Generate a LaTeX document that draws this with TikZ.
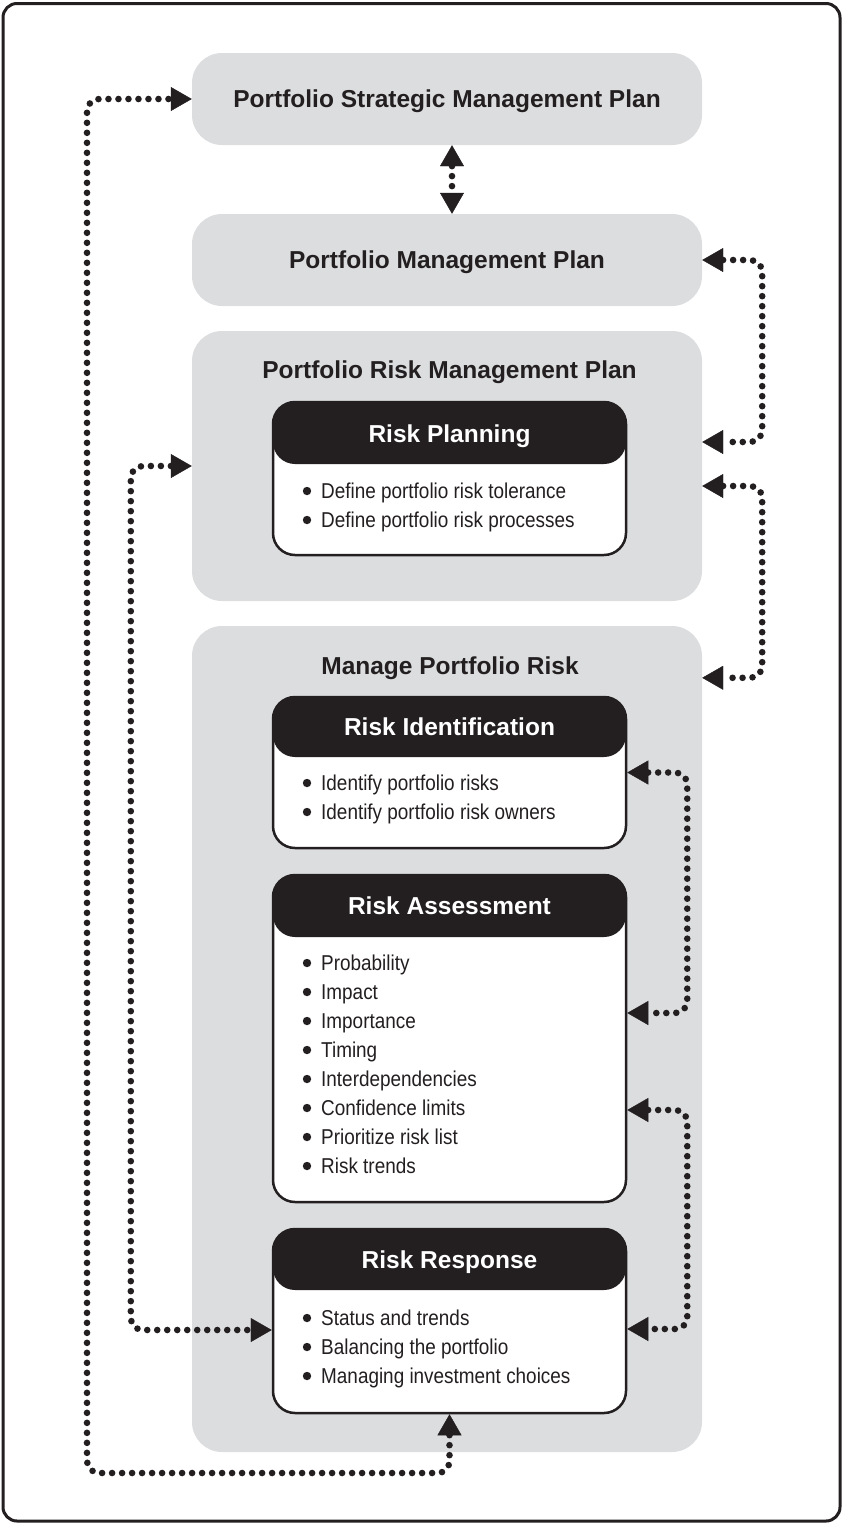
\documentclass[tikz,border=0pt]{standalone}
\usepackage{fontspec}
\setmainfont{Liberation Sans}
\newfontfamily\condf[FakeStretch=0.88]{Liberation Sans}
\usetikzlibrary{arrows.meta}
\definecolor{boxgray}{HTML}{DCDDDF}
\definecolor{ink}{HTML}{231F20}
\begin{document}
\begin{tikzpicture}[x=1pt,y=-1pt,
  outer/.style={fill=boxgray, rounded corners=30pt, minimum width=510pt, inner sep=0pt},
  title/.style={font=\bfseries\fontsize{24.5}{28}\selectfont, text=ink, text height=17.5pt, text depth=0pt},
  inbox/.style={draw=ink, line width=2.5pt, fill=white, rounded corners=22pt, minimum width=353pt, inner sep=0pt,
    path picture={\fill[ink] (path picture bounding box.north west) rectangle ([yshift=-#1]path picture bounding box.north east);}},
  head/.style={font=\bfseries\fontsize{24.5}{28}\selectfont, text=white, text height=17.5pt, text depth=0pt, inner sep=0pt},
  bul/.style={font=\condf\fontsize{21.5}{26}\selectfont, text=ink, inner sep=0pt, anchor=base west},
  conn/.style={draw=ink, line width=6.6pt, line cap=round, dash pattern=on 0pt off 10pt, rounded corners=12pt,
    arrows={Triangle[length=21pt,width=24pt,line width=0.4pt]-Triangle[length=21pt,width=24pt,line width=0.4pt]}}
]
\useasboundingbox (0,0) rectangle (843,1524);
\draw[ink, line width=3pt, rounded corners=14pt] (3,3.5) rectangle (840,1521);

% gray boxes
\node[outer, title, minimum height=92pt] (psmp) at (447,99) {Portfolio Strategic Management Plan};
\node[outer, title, minimum height=92pt] (pmp) at (447,260) {Portfolio Management Plan};
\node[outer, minimum height=270pt] (prmp) at (447,466) {};
\node[title] (prmpt) at (449.5,370) {Portfolio Risk Management Plan};
\node[outer, minimum height=826pt] (mpr) at (447,1039) {};
\node[title] (mprt) at (450,665.5) {Manage Portfolio Risk};

% inner boxes
\node[inbox=62pt, minimum height=153pt] (rp) at (449.5,478.5) {};
\node[head] (rph) at (449.5,433.5) {Risk Planning};
\foreach \t [count=\i from 0] in {Define portfolio risk tolerance, Define portfolio risk processes}{
  \node[bul] (rpl\i) at (321,498+29*\i) {\t};
  \fill[ink] ([xshift=-14pt,yshift=7pt]rpl\i.base west) circle (4.2pt);
}

\node[inbox=60pt, minimum height=151pt] (ri) at (449.5,772.5) {};
\node[head] (rih) at (449.5,727) {Risk Identification};
\foreach \t [count=\i from 0] in {Identify portfolio risks, Identify portfolio risk owners}{
  \node[bul] (ril\i) at (321,790+29*\i) {\t};
  \fill[ink] ([xshift=-14pt,yshift=7pt]ril\i.base west) circle (4.2pt);
}

\node[inbox=62pt, minimum height=327pt] (ra) at (449.5,1038.5) {};
\node[head] (rah) at (449.5,906) {Risk Assessment};
\foreach \t [count=\i from 0] in {Probability, Impact, Importance, Timing, Interdependencies, Confidence limits, Prioritize risk list, Risk trends}{
  \node[bul] (ral\i) at (321,970+29*\i) {\t};
  \fill[ink] ([xshift=-14pt,yshift=7pt]ral\i.base west) circle (4.2pt);
}

\node[inbox=61pt, minimum height=184pt] (rr) at (449.5,1321) {};
\node[head] (rrh) at (449.5,1259.5) {Risk Response};
\foreach \t [count=\i from 0] in {Status and trends, Balancing the portfolio, Managing investment choices}{
  \node[bul] (rrl\i) at (321,1325+29*\i) {\t};
  \fill[ink] ([xshift=-14pt,yshift=7pt]rrl\i.base west) circle (4.2pt);
}

% connectors
\coordinate (lb) at (87,1473);
\draw[conn] (rr.south) |- (lb) |- (psmp.west);
\draw[conn] ([xshift=5pt]psmp.south) -- ([xshift=5pt]pmp.north);
\draw[conn] (pmp.east) -- ++(60,0) |- ([yshift=24pt]prmp.east);
\draw[conn] ([yshift=-20pt]prmp.east) -- ++(60,0) |- ([yshift=-52pt]mpr.north east);
\draw[conn] (prmp.west) -- ++(-61,0) |- ([yshift=-9pt]rr.west);
\draw[conn] (ri.east) -- ++(60,0) |- ([yshift=25.5pt]ra.east);
\draw[conn] ([yshift=-71.5pt]ra.east) -- ++(60,0) |- ([yshift=-8pt]rr.east);
\end{tikzpicture}
\end{document}
